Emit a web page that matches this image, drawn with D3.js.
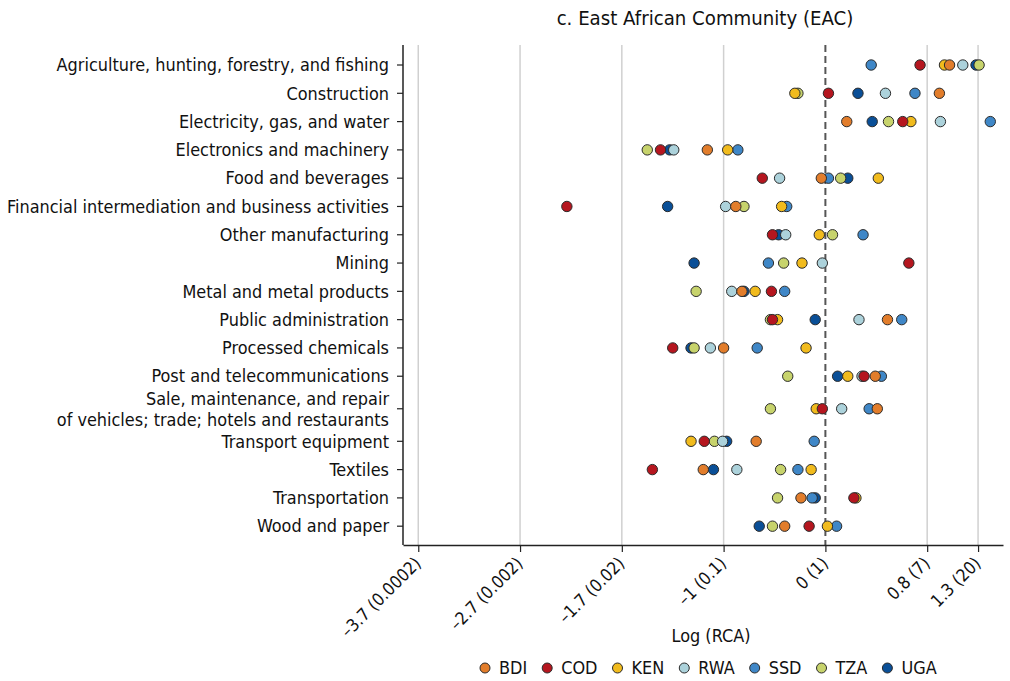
<!DOCTYPE html>
<html>
<head>
<meta charset="utf-8">
<script src="https://cdn.jsdelivr.net/npm/d3@7"></script>
<style>
  body { margin: 0; background: #fff; }
  svg text { font-family: "DejaVu Sans Condensed", "Liberation Sans Narrow", sans-serif; fill: #111; }
</style>
</head>
<body>
<svg id="chart" width="1010" height="681"></svg>
<script>
// Sectors, top to bottom ("\n" marks a line break in the label)
const sectors = [
  "Agriculture, hunting, forestry, and fishing",
  "Construction",
  "Electricity, gas, and water",
  "Electronics and machinery",
  "Food and beverages",
  "Financial intermediation and business activities",
  "Other manufacturing",
  "Mining",
  "Metal and metal products",
  "Public administration",
  "Processed chemicals",
  "Post and telecommunications",
  "Sale, maintenance, and repair\nof vehicles; trade; hotels and restaurants",
  "Transport equipment",
  "Textiles",
  "Transportation",
  "Wood and paper"
];

const countries = ["BDI", "COD", "KEN", "RWA", "SSD", "TZA", "UGA"];

// Log (RCA) by sector, one array per country (null = no data)
const BDI = [1.22, 1.12, 0.21, -1.16, -0.04, -0.88, null, null, -0.82, 0.61, -1.00, 0.49, 0.51, -0.68, -1.20, -0.24, -0.40];
const COD = [0.93, 0.03, 0.76, -1.62, -0.62, -2.54, -0.52, 0.82, -0.53, -0.52, -1.50, 0.38, -0.03, -1.19, -1.70, 0.28, -0.16];
const KEN = [1.17, -0.30, 0.84, -0.96, 0.52, -0.43, -0.06, -0.23, -0.69, -0.47, -0.19, 0.22, -0.09, -1.32, -0.14, 0.30, 0.02];
const RWA = [1.35, 0.59, 1.13, -1.49, -0.45, -0.98, -0.39, -0.03, -0.92, 0.33, -1.13, 0.36, 0.16, -1.01, -0.87, null, null];
const SSD = [0.45, 0.88, 1.62, -0.86, 0.03, -0.38, 0.37, -0.56, -0.40, 0.75, -0.67, 0.55, 0.43, -0.11, -0.27, -0.13, 0.11];
const TZA = [1.51, -0.27, 0.62, -1.75, 0.15, -0.80, 0.07, -0.41, -1.27, -0.54, -1.29, -0.37, -0.54, -1.09, -0.44, -0.47, -0.52];
const UGA = [1.48, 0.32, 0.46, -1.53, 0.22, -1.55, -0.46, -1.29, -0.80, -0.10, -1.32, 0.12, null, -0.97, -1.10, -0.10, -0.65];

const seriesByCountry = { BDI, COD, KEN, RWA, SSD, TZA, UGA };

// x-axis ticks and their labels
const tickValues = [-4, -3, -2, -1, 0, 1, 1.5];
const tickLabels = ["\u20133.7 (0.0002)", "\u20132.7 (0.002)", "\u20131.7 (0.02)", "\u20131 (0.1)", "0 (1)", "0.8 (7)", "1.3 (20)"];

const colors = {
  BDI: "#e27d2b",
  COD: "#b5161f",
  KEN: "#f1bb1d",
  RWA: "#acd2db",
  SSD: "#3f87c7",
  TZA: "#c7d36c",
  UGA: "#0a4f97"
};

const FONT = 17.4;
const LABEL_FONT = 17.9;

const svg = d3.select("#chart");
const plot = { left: 403, right: 1003, top: 45, bottom: 545 };

const x = d3.scaleLinear().domain([-4.15, 1.745]).range([plot.left, plot.right]);

// Row slots: two-line labels get a little extra room above and below
const extraPad = 0.15;
let acc = 0;
const slots = sectors.map((s, i) => {
  const lines = s.split("\n").length;
  const extra = (lines - 1) * extraPad;
  acc += extra;
  const slot = i + acc;
  acc += extra;
  return slot;
});
const lastSlot = slots[slots.length - 1];
const y = d3.scaleLinear().domain([-0.707, lastSlot + 0.665]).range([plot.top, plot.bottom]);

// Vertical gridlines
svg.append("g")
  .selectAll("line")
  .data(tickValues.filter(v => v !== 0))
  .join("line")
  .attr("x1", d => x(d)).attr("x2", d => x(d))
  .attr("y1", plot.top).attr("y2", plot.bottom)
  .attr("stroke", "#d0d0d0")
  .attr("stroke-width", 1.5);

// Reference line at log RCA = 0
svg.append("line")
  .attr("x1", x(0)).attr("x2", x(0))
  .attr("y1", plot.top).attr("y2", plot.bottom)
  .attr("stroke", "#555")
  .attr("stroke-width", 2)
  .attr("stroke-dasharray", "7,4");

// Dots (last country in the legend is drawn first)
const drawOrder = countries.slice().reverse();
const points = [];
drawOrder.forEach(c => {
  seriesByCountry[c].forEach((v, i) => {
    if (v !== null) points.push({ country: c, sector: i, value: v });
  });
});

svg.append("g")
  .selectAll("circle")
  .data(points)
  .join("circle")
  .attr("cx", d => x(d.value))
  .attr("cy", d => y(slots[d.sector]))
  .attr("r", 5.2)
  .attr("fill", d => colors[d.country])
  .attr("stroke", "#2b2b2b")
  .attr("stroke-width", 1);

// Left axis
const yAxis = svg.append("g");
yAxis.append("line")
  .attr("x1", plot.left).attr("x2", plot.left)
  .attr("y1", plot.top).attr("y2", plot.bottom)
  .attr("stroke", "#222").attr("stroke-width", 1.5);

const rows = yAxis.selectAll("g.row")
  .data(sectors)
  .join("g")
  .attr("class", "row")
  .attr("transform", (d, i) => `translate(0,${y(slots[i])})`);

rows.append("line")
  .attr("x1", plot.left - 6).attr("x2", plot.left)
  .attr("stroke", "#222").attr("stroke-width", 1.2);

// Sector labels; multi-line labels are one text element with stacked tspans
rows.each(function (d) {
  const lines = d.split("\n");
  const lh = 20.9;
  const t = d3.select(this).append("text")
    .attr("text-anchor", "end")
    .attr("font-size", LABEL_FONT);
  lines.forEach((ln, k) => {
    t.append("tspan")
      .attr("x", plot.left - 14)
      .attr("y", (k - (lines.length - 1) / 2) * lh + (lines.length - 1) * 0.6)
      .attr("dy", "0.35em")
      .text(ln);
  });
});

// Bottom axis
const xAxis = d3.axisBottom(x)
  .tickValues(tickValues)
  .tickFormat((d, i) => tickLabels[i])
  .tickSize(7)
  .tickSizeOuter(0);

const gx = svg.append("g")
  .attr("transform", `translate(0,${plot.bottom})`)
  .call(xAxis);

gx.attr("font-family", null).attr("font-size", null);
gx.select(".domain").attr("stroke", "#222").attr("stroke-width", 1.5);
gx.selectAll(".tick line").attr("stroke", "#222").attr("stroke-width", 1.2);
gx.selectAll(".tick text")
  .attr("font-size", FONT)
  .attr("fill", "#111")
  .attr("text-anchor", "end")
  .attr("x", 0)
  .attr("y", 0)
  .attr("dy", "0.35em")
  .attr("transform", "translate(-1,15) rotate(-45)");

// Axis title
svg.append("text")
  .attr("x", 711)
  .attr("y", 642)
  .attr("text-anchor", "middle")
  .attr("font-size", LABEL_FONT)
  .text("Log (RCA)");

// Chart title
svg.append("text")
  .attr("x", 705)
  .attr("y", 25)
  .attr("text-anchor", "middle")
  .attr("font-size", 20.2)
  .text("c. East African Community (EAC)");

// Legend
const legend = svg.append("g").attr("transform", "translate(0,668)");
let lx = 485;
countries.forEach(c => {
  const item = legend.append("g");
  item.append("circle")
    .attr("cx", lx).attr("cy", 0).attr("r", 5)
    .attr("fill", colors[c])
    .attr("stroke", "#2b2b2b").attr("stroke-width", 1);
  const t = item.append("text")
    .attr("x", lx + 14)
    .attr("y", 0)
    .attr("dy", "0.35em")
    .attr("font-size", LABEL_FONT)
    .text(c);
  lx = lx + 14 + t.node().getComputedTextLength() + 20;
});
</script>
</body>
</html>
